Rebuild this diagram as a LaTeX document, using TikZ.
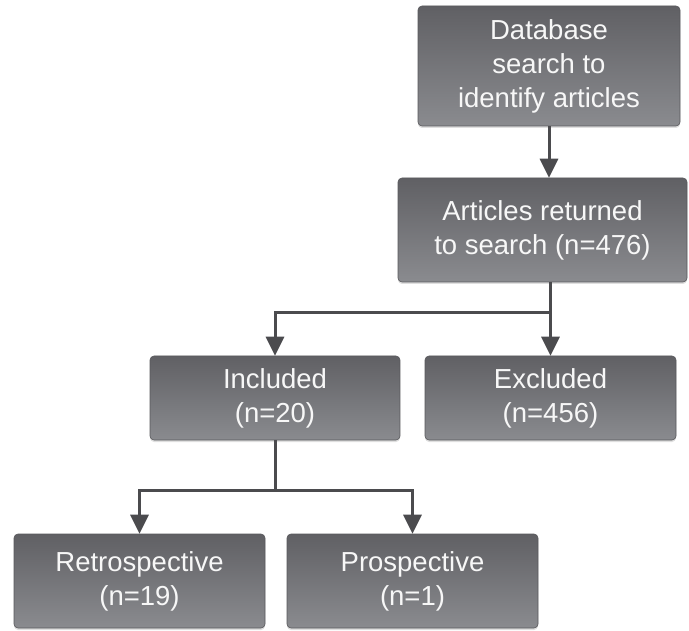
\documentclass[tikz,border=0pt]{standalone}
\usepackage{fontspec}
\setsansfont{Liberation Sans}
\usepackage{tikz}
\usetikzlibrary{arrows.meta,shadows}
\definecolor{boxtop}{RGB}{96,96,100}
\definecolor{boxbot}{RGB}{138,139,143}
\definecolor{boxedge}{RGB}{88,88,92}
\definecolor{linegray}{RGB}{75,75,78}
\tikzstyle{box} = [draw=boxedge, line width=0.6pt, rounded corners=4pt, top color=boxtop, bottom color=boxbot, text=white!94!gray, align=center, inner sep=0pt, font={\sffamily\fontsize{27.5}{34}\selectfont}, drop shadow={opacity=0.25, shadow xshift=0pt, shadow yshift=-2pt}]
\tikzstyle{link} = [draw=linegray, line width=3pt]
\tikzstyle{arr} = [link, -{Triangle[width=18pt,length=19pt]}]

\begin{document}
\begin{tikzpicture}[x=1pt,y=-1pt]
        \useasboundingbox (0,0) rectangle (689,631);
        \node[box,minimum width=262pt,minimum height=120pt](0) at (549,66){Database\\search to\\identify articles};
        \node[box,minimum width=289pt,minimum height=104pt](1) at (542.5,230){Articles returned\\to search (n=476)};
        \node[box,minimum width=250pt,minimum height=84pt](2) at (275,398){Included\\(n=20)};
        \node[box,minimum width=251pt,minimum height=84pt](3) at (550.5,398){Excluded\\(n=456)};
        \node[box,minimum width=251pt,minimum height=94pt](4) at (139.5,581){Retrospective\\(n=19)};
        \node[box,minimum width=251pt,minimum height=94pt](5) at (412.5,581){Prospective\\(n=1)};
        \coordinate (j1) at (549,313);
        \coordinate (j2) at (275,490);
        \draw[arr](0.south) -- (0.south |- 1.north);
        \draw[arr](1.south -| 3.north) -- (3.north);
        \draw[arr](j1) -| (2.north);
        \draw[link](2.south) -- (j2);
        \draw[arr](j2) -| (4.north);
        \draw[arr](j2) -| (5.north);
      \end{tikzpicture}
\end{document}
